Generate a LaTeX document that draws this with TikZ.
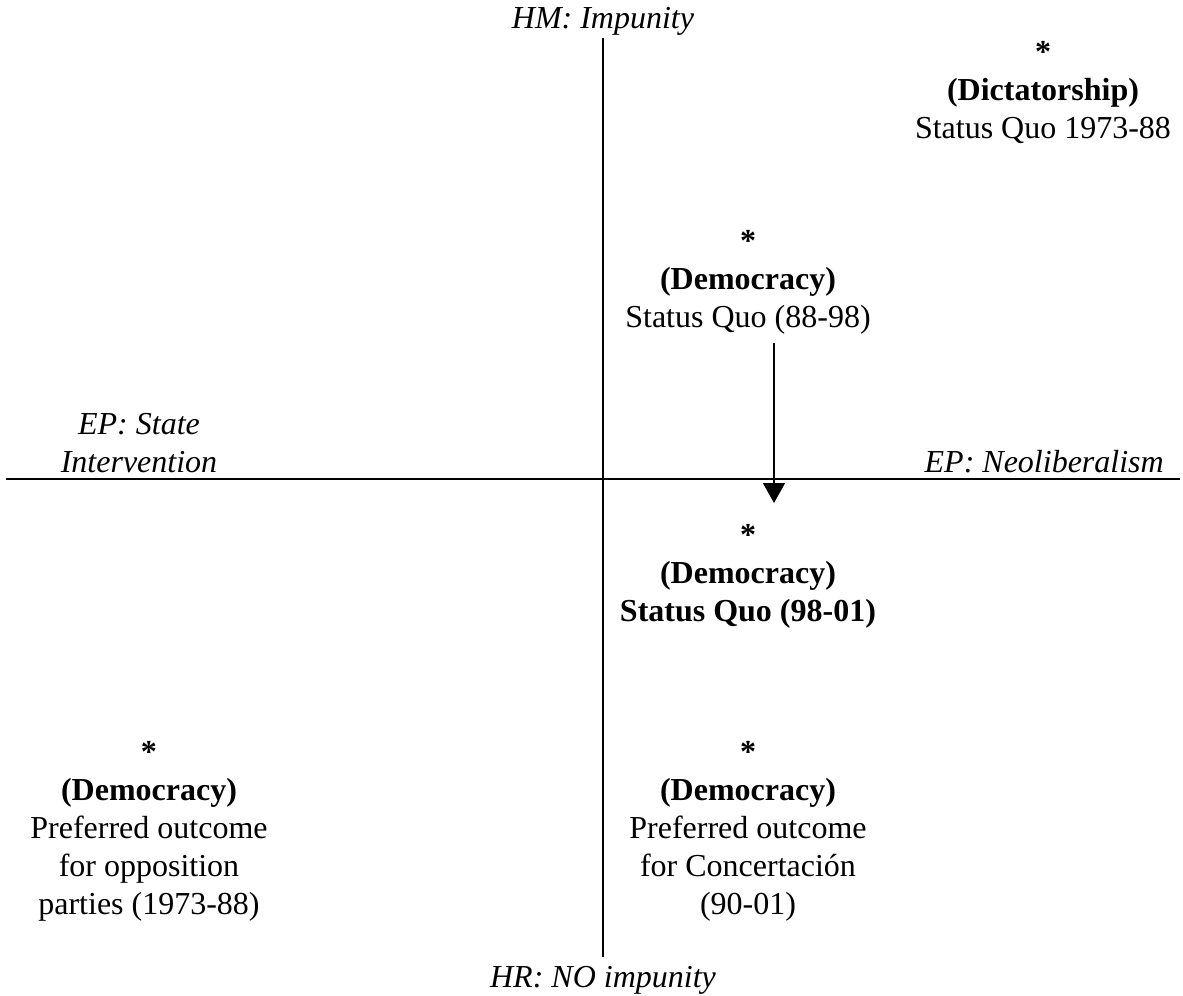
\documentclass[tikz,border=0pt]{standalone}
\usepackage{fontspec}
\setmainfont{Liberation Serif}
\usetikzlibrary{arrows.meta}
\begin{document}
\begin{tikzpicture}[x=0.75pt,y=-0.75pt,
  lbl/.style={inner sep=0pt,align=center,font=\fontsize{24}{28.5}\selectfont},
  axis/.style={line width=1.5pt},
  arr/.style={line width=1pt,-{Triangle[width=16.5pt,length=15pt]}}]
\useasboundingbox (0,0) rectangle (1183,996);
\coordinate (top) at (603,38);
\coordinate (bot) at (603,957);
\coordinate (lft) at (6,479);
\coordinate (rgt) at (1180,479);
\draw[axis] (top) -- (bot);
\draw[axis] (lft) -- (rgt);
\node[lbl] (hm) at (603,21) {\itshape HM: Impunity};
\node[lbl] (hr) at (603,980) {\itshape HR: NO impunity};
\node[lbl] (ep1) at (139,443) {\itshape EP: State\\\itshape Intervention};
\node[lbl,anchor=east] (ep2) at (1164,462) {\itshape EP: Neoliberalism};
\node[lbl] (dict) at (1043,93) {\textbf{*}\\\textbf{(Dictatorship)}\\Status Quo 1973-88};
\node[lbl] (dem1) at (748,282) {\textbf{*}\\\textbf{(Democracy)}\\Status Quo (88-98)};
\node[lbl] (dem2) at (748,576) {\textbf{*}\\\textbf{(Democracy)}\\\textbf{Status Quo (98-01)}};
\node[lbl] (opp) at (149,831) {\textbf{*}\\\textbf{(Democracy)}\\Preferred outcome\\for opposition\\parties (1973-88)};
\node[lbl] (conc) at (748,831) {\textbf{*}\\\textbf{(Democracy)}\\Preferred outcome\\for Concertación\\(90-01)};
\coordinate (a1) at (774,343);
\coordinate (a2) at (774,503);
\draw[arr] (a1) -- (a2);
\end{tikzpicture}
\end{document}
